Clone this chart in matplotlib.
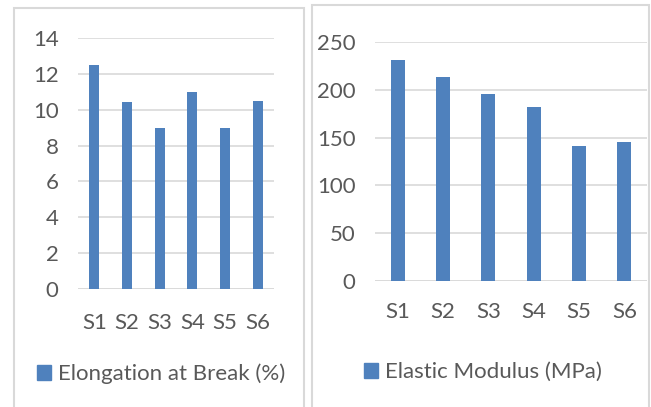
import matplotlib.pyplot as plt
from matplotlib.patches import Rectangle

samples = ['S1', 'S2', 'S3', 'S4', 'S5', 'S6']
elongation = [12.5, 10.45, 9.0, 11.0, 9.0, 10.5]
modulus = [231, 213, 196, 182, 141, 145]

blue = '#4f81bd'
grid = '#d9d9d9'
txt = '#595959'

plt.rcParams['font.family'] = ['Lato', 'DejaVu Sans']

W, H = 651, 407
fig = plt.figure(figsize=(W / 100, H / 100), dpi=100)


def px(x0, y0, x1, y1):
    # pixel box (top-left origin) -> figure fraction rect
    return [x0 / W, 1 - y1 / H, (x1 - x0) / W, (y1 - y0) / H]


# panel frames
for x0, y0, x1, y1 in [(14, 8, 304, 420), (312, 5, 649, 420)]:
    r = px(x0, y0, x1, y1)
    fig.patches.append(Rectangle((r[0], r[1]), r[2], r[3], transform=fig.transFigure,
                                 fill=False, edgecolor=grid, linewidth=1.5))


def panel(rect, vals, ymax, step, label, xpad, legend_xy):
    ax = fig.add_axes(px(*rect))
    ax.bar(range(len(samples)), vals, width=0.31, color=blue, zorder=3)
    ax.set_xlim(-0.5, len(samples) - 0.5)
    ax.set_ylim(0, ymax)
    ax.set_yticks(range(0, ymax + 1, step))
    ax.set_xticks(range(len(samples)))
    ax.set_xticklabels(samples)
    ax.yaxis.grid(True, color=grid, linewidth=1.2, zorder=0)
    ax.set_axisbelow(True)
    for s in ax.spines.values():
        s.set_visible(False)
    ax.tick_params(axis='both', length=0, labelsize=16, labelcolor=txt)
    ax.tick_params(axis='y', pad=14)
    ax.tick_params(axis='x', pad=xpad)
    ax.axhline(0, color=grid, linewidth=1.2, zorder=1)
    lx, ly = legend_xy
    fig.legend([Rectangle((0, 0), 1, 1, color=blue)], [label], loc='center',
               bbox_to_anchor=(lx / W, 1 - ly / H), frameon=False, fontsize=16,
               handlelength=0.65, handleheight=0.65, handletextpad=0.3,
               labelcolor=txt)
    return ax


panel((78, 38, 274, 289), elongation, 14, 2, 'Elongation at Break (%)', 17, (161, 374))
panel((375, 42, 647, 281), modulus, 250, 50, 'Elastic Modulus (MPa)', 15, (483, 372))

fig.savefig('out.png', dpi=100)
